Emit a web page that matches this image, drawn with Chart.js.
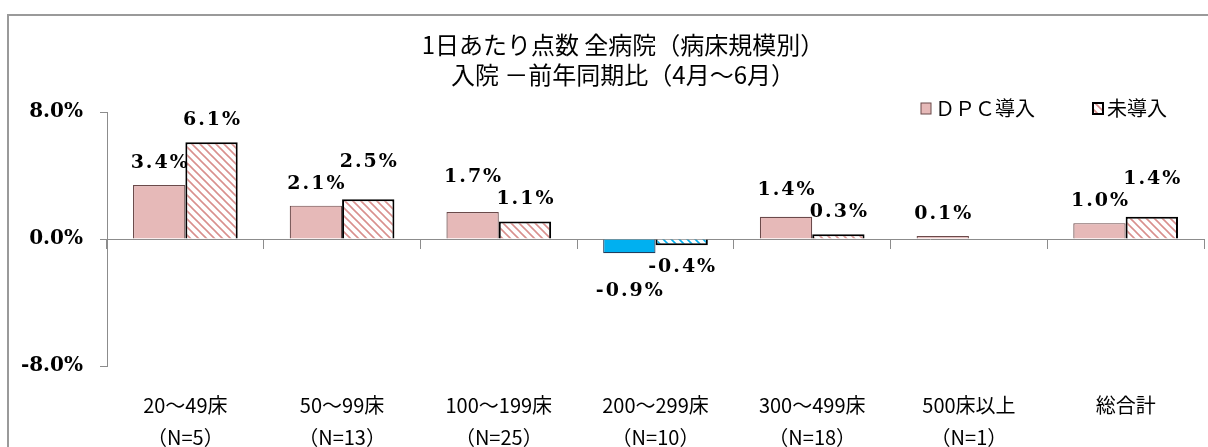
<!DOCTYPE html>
<html>
<head>
<meta charset="utf-8">
<script src="https://cdn.jsdelivr.net/npm/chart.js@4/dist/chart.umd.min.js"></script>
<style>
  html, body { margin: 0; padding: 0; background: #fff; overflow: hidden; }
  #wrap { position: relative; width: 1208px; height: 447px; }
  #frame { position: absolute; left: 7px; top: 14px; width: 1220px; height: 460px; border: 2px solid #9a9a9a; box-sizing: border-box; }
  #chart { position: absolute; left: 0; top: 0; }
</style>
</head>
<body>
<div id="wrap">
  <div id="frame"></div>
  <canvas id="chart" width="1208" height="447"></canvas>
</div>
<script>
(function () {
    "use strict";

    const categories = ["20～49床", "50～99床", "100～199床", "200～299床", "300～499床", "500床以上", "総合計"];
    const counts = ["（N=5）", "（N=13）", "（N=25）", "（N=10）", "（N=18）", "（N=1）", ""];
    const dpcValues = [3.4, 2.1, 1.7, -0.9, 1.4, 0.1, 1.0];
    const nonDpcValues = [6.1, 2.5, 1.1, -0.4, 0.3, null, 1.4];
    const yTicks = [8, 0, -8];
    const titleLines = ["1日あたり点数 全病院（病床規模別）", "入院 －前年同期比（4月～6月）"];
    const seriesNames = ["ＤＰＣ導入", "未導入"];

    const PINK = "#E6B9B8";
    const PINK_LINE = "#D9908E";
    const BLUE = "#00B0F0";
    const NUM_FONT = "'DejaVu Serif', serif";
    const JP_FONT = "'Noto Sans CJK JP', sans-serif";

    function hatch(color) {
        const c = document.createElement("canvas");
        c.width = 8; c.height = 8;
        const g = c.getContext("2d");
        g.fillStyle = "#fff";
        g.fillRect(0, 0, 8, 8);
        g.strokeStyle = color;
        g.lineWidth = 1.6;
        g.beginPath();
        g.moveTo(-2, -2); g.lineTo(10, 10);
        g.moveTo(-2, 6); g.lineTo(2, 10);
        g.moveTo(6, -2); g.lineTo(10, 2);
        g.stroke();
        return g.createPattern(c, "repeat");
    }

    const ctx = document.getElementById("chart").getContext("2d");
    const pinkHatch = hatch(PINK_LINE);
    const blueHatch = hatch(BLUE);

    const xLabels = categories.map((c, i) => counts[i] ? [c, counts[i]] : [c]);

    const valueLabels = {
        id: "valueLabels",
        afterDatasetsDraw(chart) {
            const c = chart.ctx;
            const pos = [];
            chart.data.datasets.forEach((ds, di) => {
                const meta = chart.getDatasetMeta(di);
                pos[di] = meta.data.map((el, i) => {
                    const v = ds.data[i];
                    if (v === null || v === undefined) return null;
                    return { x: el.x, y: v >= 0 ? el.y - 22 : el.y + 22, v: v };
                });
            });
            // push apart labels in the same group that would overlap
            for (let i = 0; i < categories.length; i++) {
                const a = pos[0][i], b = pos[1][i];
                if (!a || !b) continue;
                if (Math.abs(a.y - b.y) < 20) {
                    if (a.v >= 0) {
                        if (a.y <= b.y) a.y = b.y - 22; else b.y = a.y - 22;
                    } else {
                        if (a.y >= b.y) a.y = b.y + 24; else b.y = a.y + 24;
                    }
                }
            }
            c.save();
            c.font = "bold 19px " + NUM_FONT;
            c.fillStyle = "#000";
            c.textAlign = "center";
            c.textBaseline = "middle";
            if ("letterSpacing" in c) c.letterSpacing = "2px";
            pos.forEach(list => list.forEach(p => {
                if (p) c.fillText(p.v.toFixed(1) + "%", p.x + 1, p.y);
            }));
            c.restore();
        }
    };

    const titleAndLegend = {
        id: "titleAndLegend",
        afterDraw(chart) {
            const c = chart.ctx;
            c.save();
            c.fillStyle = "#000";
            c.textAlign = "center";
            c.textBaseline = "middle";
            c.font = "24px " + JP_FONT;
            titleLines.forEach((t, i) => c.fillText(t, 623, 45 + i * 30));

            const items = [
                { x: 921, fill: PINK, stroke: "#6b4a4a", lw: 1 },
                { x: 1093, fill: pinkHatch, stroke: "#000", lw: 2 }
            ];
            c.font = "20px " + JP_FONT;
            c.textAlign = "left";
            items.forEach((it, i) => {
                c.fillStyle = it.fill;
                c.fillRect(it.x, 103, 10, 11);
                c.strokeStyle = it.stroke;
                c.lineWidth = it.lw;
                c.strokeRect(it.x, 103, 10, 11);
                c.fillStyle = "#000";
                c.fillText(seriesNames[i], it.x + 14, 108);
            });
            c.restore();
        }
    };

    new Chart(ctx, {
        type: "bar",
        data: {
            labels: categories,
            datasets: [{
                label: seriesNames[0],
                data: dpcValues,
                backgroundColor: dpcValues.map(v => v < 0 ? BLUE : PINK),
                borderColor: dpcValues.map(v => v < 0 ? "#1F3F5F" : "#6b4a4a"),
                borderWidth: 1.2,
                minBarLength: 3,
                categoryPercentage: 0.668,
                barPercentage: 1
            }, {
                label: seriesNames[1],
                data: nonDpcValues,
                backgroundColor: nonDpcValues.map(v => v !== null && v < 0 ? blueHatch : pinkHatch),
                borderColor: "#000",
                borderWidth: 2,
                categoryPercentage: 0.668,
                barPercentage: 1
            }]
        },
        options: {
            responsive: false,
            animation: false,
            layout: { padding: { left: 0, right: 4, top: 112, bottom: 0 } },
            plugins: {
                legend: { display: false },
                tooltip: { enabled: false },
                title: { display: false }
            },
            scales: {
                x: {
                    position: { y: 0 },
                    offset: true,
                    border: { display: true, color: "#8c8c8c", width: 1 },
                    grid: { offset: true, drawOnChartArea: false, drawTicks: true, tickLength: 9, color: "#8c8c8c" },
                    ticks: { display: false }
                },
                x2: {
                    type: "category",
                    labels: xLabels,
                    position: "bottom",
                    offset: true,
                    border: { display: false },
                    grid: { display: false },
                    ticks: {
                        color: "#000",
                        padding: 15,
                        maxRotation: 0,
                        autoSkip: false,
                        font: { family: JP_FONT, size: 20, lineHeight: 1.6 }
                    },
                    afterFit(scale) { scale.height = 81; }
                },
                y: {
                    min: -8,
                    max: 8,
                    afterBuildTicks(scale) { scale.ticks = yTicks.map(v => ({ value: v })); },
                    border: { display: true, color: "#8c8c8c", width: 1 },
                    grid: { drawOnChartArea: false, drawTicks: true, tickLength: 7, color: "#8c8c8c" },
                    ticks: {
                        color: "#000",
                        padding: 17,
                        font: { family: NUM_FONT, size: 20, weight: "bold" },
                        callback: v => v.toFixed(1) + "%"
                    },
                    afterFit(scale) { scale.width = 107; }
                }
            }
        },
        plugins: [valueLabels, titleAndLegend]
    });
})();
</script>
</body>
</html>
